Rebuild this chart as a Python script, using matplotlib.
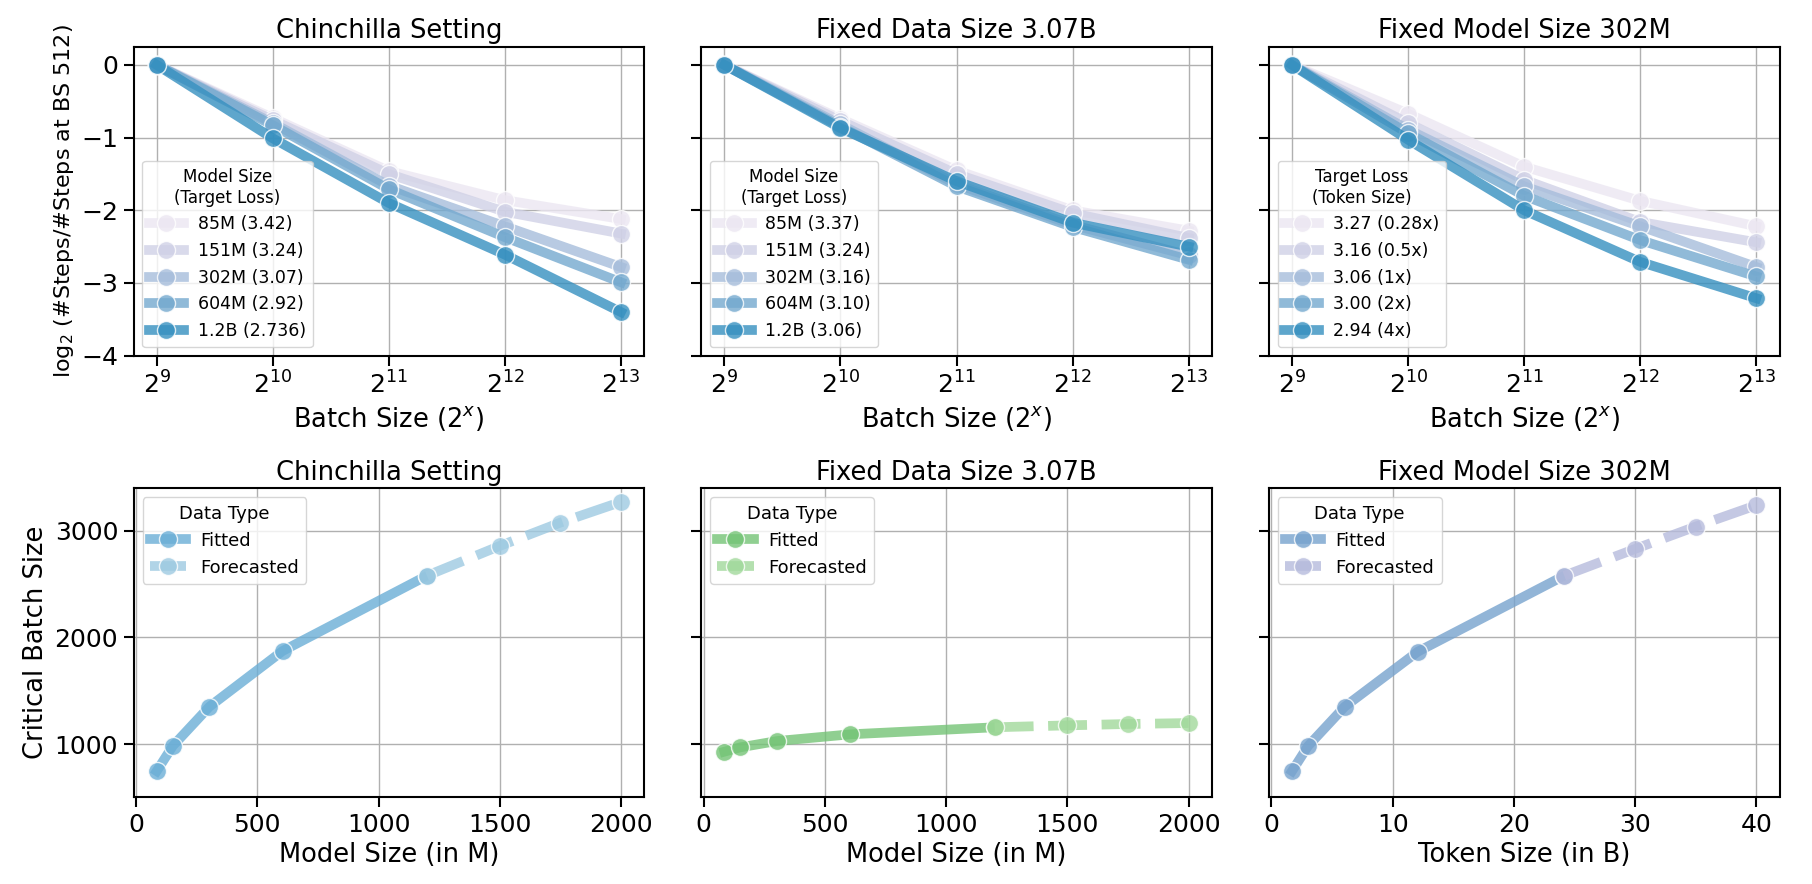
import numpy as np
import matplotlib
matplotlib.use('Agg')
import matplotlib.pyplot as plt

# ---------------- data ----------------
batch_exp = [9, 10, 11, 12, 13]
batch_tick_labels = [r'$2^{9}$', r'$2^{10}$', r'$2^{11}$', r'$2^{12}$', r'$2^{13}$']

chin_labels = ['85M (3.42)', '151M (3.24)', '302M (3.07)', '604M (2.92)', '1.2B (2.736)']
chin_values = [
    [0, -0.73, -1.46, -1.86, -2.12],
    [0, -0.76, -1.50, -2.02, -2.32],
    [0, -0.80, -1.66, -2.22, -2.78],
    [0, -0.83, -1.71, -2.37, -2.99],
    [0, -1.01, -1.90, -2.61, -3.40],
]

fixdata_labels = ['85M (3.37)', '151M (3.24)', '302M (3.16)', '604M (3.10)', '1.2B (3.06)']
fixdata_values = [
    [0, -0.74, -1.45, -2.00, -2.28],
    [0, -0.77, -1.50, -2.04, -2.38],
    [0, -0.82, -1.64, -2.20, -2.62],
    [0, -0.85, -1.67, -2.23, -2.68],
    [0, -0.87, -1.60, -2.17, -2.50],
]

fixmodel_labels = ['3.27 (0.28x)', '3.16 (0.5x)', '3.06 (1x)', '3.00 (2x)', '2.94 (4x)']
fixmodel_values = [
    [0, -0.67, -1.40, -1.87, -2.22],
    [0, -0.80, -1.58, -2.16, -2.44],
    [0, -0.89, -1.67, -2.22, -2.78],
    [0, -0.94, -1.80, -2.41, -2.91],
    [0, -1.03, -2.00, -2.71, -3.21],
]

model_fit_x = [85, 151, 302, 604, 1200]
model_fc_x = [1200, 1500, 1750, 2000]
chin_fit_y = [746, 981, 1350, 1873, 2580]
chin_fc_y = [2580, 2859, 3078, 3272]
fixdata_fit_y = [928, 969, 1028, 1091, 1157]
fixdata_fc_y = [1157, 1175, 1188, 1197]
token_fit_x = [1.7, 3.02, 6.04, 12.08, 24.16]
token_fc_x = [24.16, 30, 35, 40]
fixmodel_fit_y = [746, 981, 1350, 1867, 2580]
fixmodel_fc_y = [2580, 2831, 3041, 3241]

# ---------------- style ----------------
top_colors = ['#ece7f2', '#d0d1e6', '#a6bddb', '#74a9cf', '#3690c0']
bottom_colors = [('#6baed6', '#9ecae1'), ('#74c476', '#a1d99b'), ('#77a3ce', '#b6bbdc')]

plt.rcParams.update({
    'font.family': 'DejaVu Sans',
    'axes.linewidth': 1.5,
    'xtick.major.size': 7.5, 'ytick.major.size': 7.5,
    'xtick.major.width': 1.5, 'ytick.major.width': 1.5,
    'xtick.labelsize': 18, 'ytick.labelsize': 18,
    'axes.labelsize': 18.5, 'axes.titlesize': 18.5,
    'grid.color': '#b0b0b0', 'grid.linewidth': 1.0,
    'legend.edgecolor': '0.8',
})

fig = plt.figure(figsize=(18.12, 8.84), dpi=100)
left, right = 133.5 / 1812, 1779.5 / 1812
axw = (right - left - 2 * 57 / 1812) / 3
top_y0, top_h = 1 - 355.7 / 884, 309 / 884
bot_y0 = 1 - 797.3 / 884

axes_top = []
axes_bot = []
for i in range(3):
    x0 = left + i * (axw + 57 / 1812)
    a = fig.add_axes([x0, top_y0, axw, top_h], sharey=axes_top[0] if axes_top else None)
    axes_top.append(a)
for i in range(3):
    x0 = left + i * (axw + 57 / 1812)
    a = fig.add_axes([x0, bot_y0, axw, top_h], sharey=axes_bot[0] if axes_bot else None)
    axes_bot.append(a)

LW = 7
MS = 13
ALPHA = 0.8

top_sets = [
    ('Chinchilla Setting', chin_labels, chin_values, 'Model Size\n(Target Loss)'),
    ('Fixed Data Size 3.07B', fixdata_labels, fixdata_values, 'Model Size\n(Target Loss)'),
    ('Fixed Model Size 302M', fixmodel_labels, fixmodel_values, 'Target Loss\n(Token Size)'),
]
for ax, (title, labels, values, ltitle) in zip(axes_top, top_sets):
    ax.grid(True, zorder=0)
    ax.set_axisbelow(True)
    for lab, vals, col in zip(labels, values, top_colors):
        ax.plot(batch_exp, vals, color=col, lw=LW, marker='o', ms=MS,
                mec='white', mew=1.0, alpha=ALPHA, label=lab)
    ax.set_xticks(batch_exp)
    ax.set_xticklabels(batch_tick_labels)
    ax.set_xlim(8.8, 13.2)
    ax.set_title(title)
    ax.set_xlabel(r'Batch Size ($2^x$)')
    leg = ax.legend(title=ltitle, loc='lower left', fontsize=12.5, title_fontsize=12,
                    framealpha=0.8)
    leg.get_title().set_multialignment('center')

axes_top[0].set_ylim(-4, 0.25)
axes_top[0].set_yticks([0, -1, -2, -3, -4])
axes_top[0].set_ylabel('log$_2$ (#Steps/#Steps at BS 512)', fontsize=16)
for ax in axes_top[1:]:
    ax.tick_params(labelleft=False)

bot_sets = [
    ('Chinchilla Setting', model_fit_x, chin_fit_y, model_fc_x, chin_fc_y, 'Model Size (in M)'),
    ('Fixed Data Size 3.07B', model_fit_x, fixdata_fit_y, model_fc_x, fixdata_fc_y, 'Model Size (in M)'),
    ('Fixed Model Size 302M', token_fit_x, fixmodel_fit_y, token_fc_x, fixmodel_fc_y, 'Token Size (in B)'),
]
for ax, (title, fx, fy, cx, cy, xl), (cfit, cfc) in zip(axes_bot, bot_sets, bottom_colors):
    ax.grid(True, zorder=0)
    ax.set_axisbelow(True)
    ax.plot(fx, fy, color=cfit, lw=LW, marker='o', ms=MS, mec='white', mew=1.0,
            alpha=ALPHA, label='Fitted')
    ax.plot(cx, cy, color=cfc, lw=LW, marker='o', ms=MS, mec='white', mew=1.0,
            alpha=ALPHA, dashes=(4, 1.5), label='Forecasted')
    ax.set_title(title)
    ax.set_xlabel(xl)
    ax.legend(title='Data Type', loc='upper left', fontsize=13, title_fontsize=13,
              framealpha=0.8)

axes_bot[0].set_xticks([0, 500, 1000, 1500, 2000])
axes_bot[1].set_xticks([0, 500, 1000, 1500, 2000])
axes_bot[2].set_xticks([0, 10, 20, 30, 40])
axes_bot[0].set_ylim(500, 3400)
axes_bot[0].set_yticks([1000, 2000, 3000])
axes_bot[0].set_ylabel('Critical Batch Size')
for ax in axes_bot[1:]:
    ax.tick_params(labelleft=False)

fig.savefig('out.png', dpi=100)
